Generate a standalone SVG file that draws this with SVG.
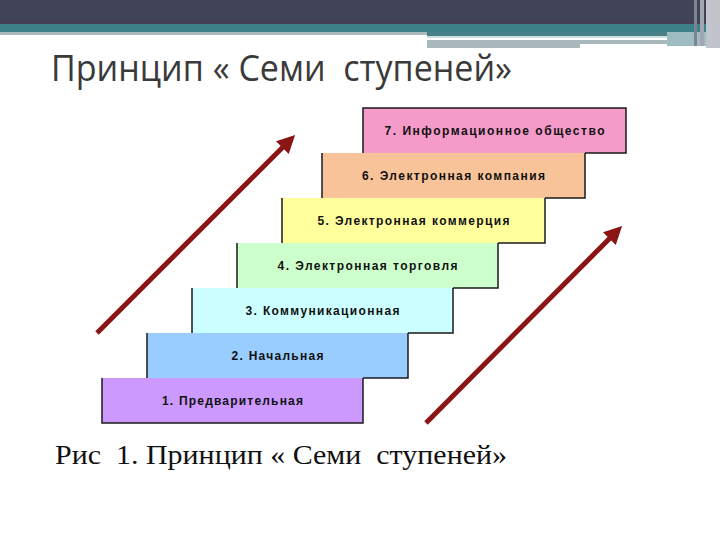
<svg xmlns="http://www.w3.org/2000/svg" width="720" height="540" viewBox="0 0 720 540">
<defs>
<style>
.step{stroke:none}
.edge{fill:none;stroke:#1a1a1a;stroke-width:1.5}
.lbl{font-family:"Liberation Sans",Arial,sans-serif;font-weight:bold;font-size:12px;fill:#111;text-anchor:middle}
.arrow{stroke:#8b1414;stroke-width:5;fill:none;marker-end:url(#ah)}
</style>
<marker id="ah" viewBox="0 0 10 10" refX="6" refY="5" markerWidth="3.6" markerHeight="3.6" orient="auto" markerUnits="strokeWidth">
<path d="M0,0 L10,5 L0,10 Z" fill="#8b1414"/>
</marker>
</defs>
<rect width="720" height="540" fill="#ffffff"/>
<g id="header">
<rect x="0" y="0" width="720" height="24" fill="#414456"/>
<rect x="0" y="20" width="720" height="4" fill="#453f55"/>
<rect x="0" y="24" width="720" height="8" fill="#3e8088"/>
<rect x="0" y="32" width="427" height="3" fill="#a9b9bd"/>
<rect x="427" y="32" width="280" height="4" fill="#4a8088"/>
<rect x="427" y="36" width="240" height="2" fill="#cfe0e2"/>
<rect x="427" y="40" width="153" height="8" fill="#a8b8bb"/>
<rect x="580" y="40" width="87" height="4" fill="#a8b8bb"/>
<rect x="667" y="32" width="40" height="14" fill="#9fbcc0"/>
<rect x="694" y="0" width="3" height="46" fill="#7d8594"/>
<rect x="700" y="0" width="4" height="46" fill="#a0a6b2"/>
<rect x="706" y="0" width="14" height="48" fill="#c2c4cc"/>
</g>
<text id="title" xml:space="preserve" x="51" y="81" font-family="'Open Sans','DejaVu Sans',sans-serif" font-size="36" fill="#3a3a3a" textLength="461" lengthAdjust="spacingAndGlyphs">Принцип « Семи  ступеней»</text>
<g id="step7"><rect class="step" x="363" y="108" width="263" height="45" fill="#f49bc9"/><text class="lbl" x="494.5" y="135" textLength="220">7. Информационное общество</text></g>
<g id="step6"><rect class="step" x="322" y="153" width="263" height="45" fill="#f9c399"/><text class="lbl" x="453.5" y="180" textLength="183">6. Электронная компания</text></g>
<g id="step5"><rect class="step" x="282" y="198" width="263" height="45" fill="#ffff9c"/><text class="lbl" x="413.5" y="225" textLength="192">5. Электронная коммерция</text></g>
<g id="step4"><rect class="step" x="237" y="243" width="261" height="45" fill="#ccffcc"/><text class="lbl" x="367.5" y="270" textLength="180">4. Электронная торговля</text></g>
<g id="step3"><rect class="step" x="192" y="288" width="261" height="45" fill="#ccffff"/><text class="lbl" x="322.5" y="315" textLength="154">3. Коммуникационная</text></g>
<g id="step2"><rect class="step" x="147" y="333" width="261" height="45" fill="#99ccff"/><text class="lbl" x="277.5" y="360" textLength="92">2. Начальная</text></g>
<g id="step1"><rect class="step" x="102" y="378" width="261" height="45" fill="#cc99ff"/><text class="lbl" x="232.5" y="405" textLength="141">1. Предварительная</text></g>
<g id="outline">
<path class="edge" d="M363,153 V108 H626 V153 H585"/>
<path class="edge" d="M322,198 V153 M585,153 V198 H545"/>
<path class="edge" d="M282,243 V198 M545,198 V243 H498"/>
<path class="edge" d="M237,288 V243 M498,243 V288 H453"/>
<path class="edge" d="M192,333 V288 M453,288 V333 H408"/>
<path class="edge" d="M147,378 V333 M408,333 V378 H363"/>
<path class="edge" d="M102,378 V423 H363 V378"/>
</g>
<g id="connectors">
<line class="arrow" x1="97" y1="333" x2="290" y2="140"/>
<line class="arrow" x1="426" y1="423" x2="617" y2="231"/>
</g>
<text id="caption" xml:space="preserve" x="55" y="464" font-family="'Liberation Serif','Times New Roman',serif" font-size="28" fill="#111" textLength="452" lengthAdjust="spacingAndGlyphs">Рис  1. Принцип « Семи  ступеней»</text>
</svg>
